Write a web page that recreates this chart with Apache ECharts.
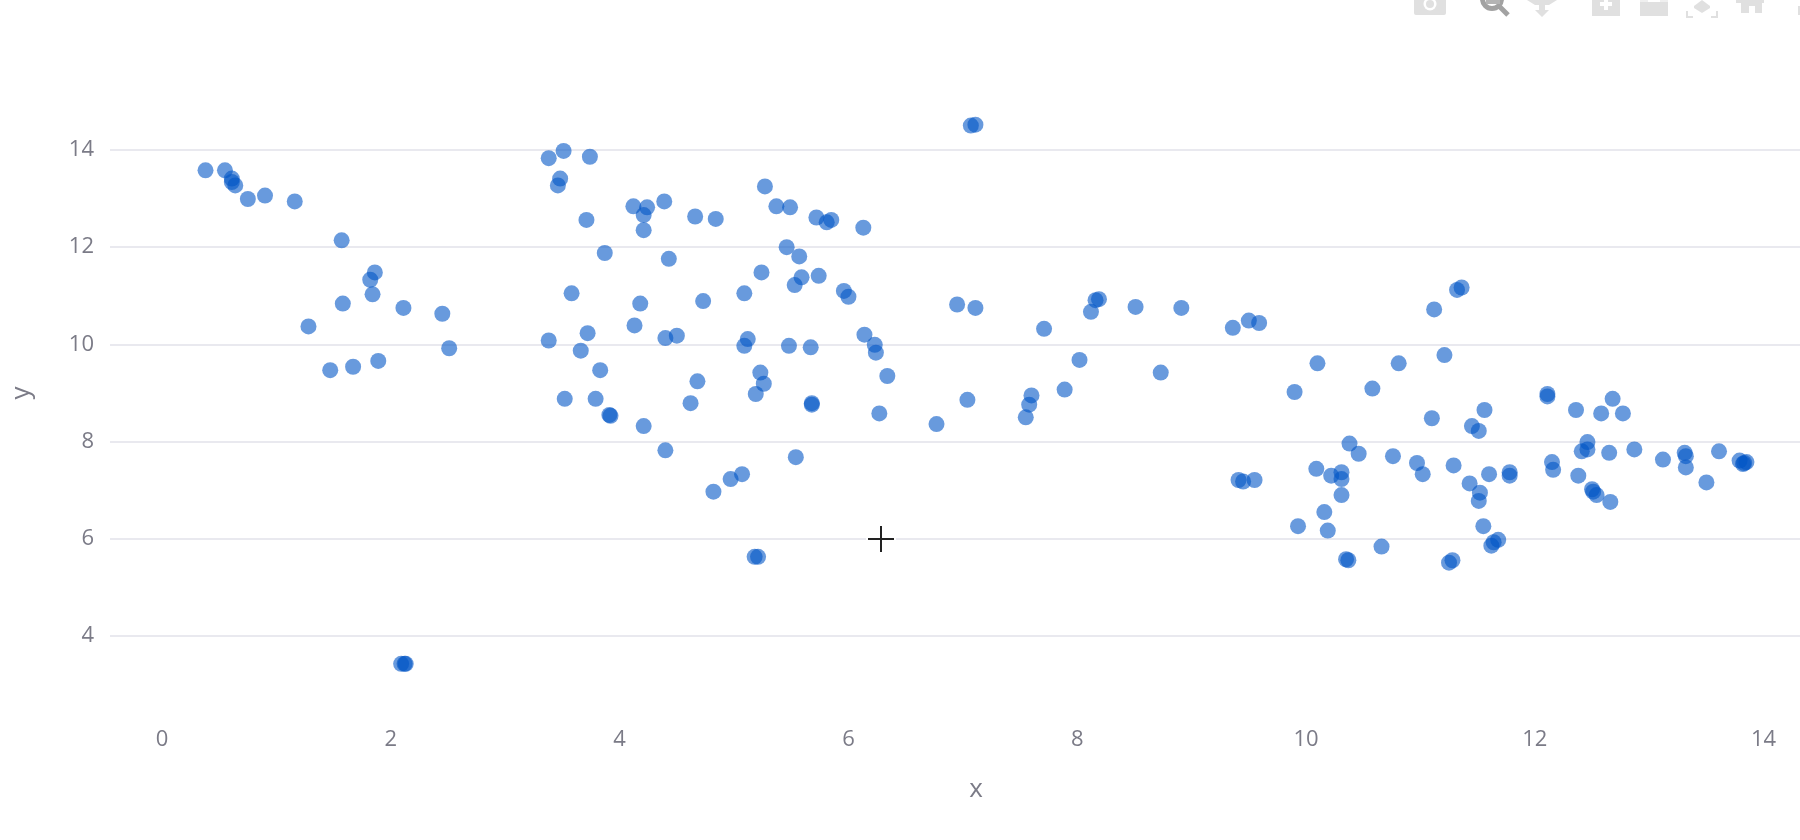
<!DOCTYPE html>
<html><head><meta charset="utf-8">
<style>html,body{margin:0;padding:0;background:#fff;overflow:hidden}#c{width:1800px;height:840px}</style>
<script src="https://cdn.jsdelivr.net/npm/echarts@6/dist/echarts.min.js"></script>
</head><body><div id="c"></div>
<script>
const xValues=[.38,.55,.61,.61,.64,.75,.90,1.16,1.57,1.86,1.82,1.84,1.58,2.11,2.45,1.28,2.51,1.89,1.67,1.47,2.09,2.12,2.13,
3.38,3.51,3.74,3.48,3.46,3.71,3.87,3.58,3.38,3.72,3.66,3.83,3.52,3.79,3.91,3.92,4.12,4.24,4.21,4.21,4.39,4.43,4.18,4.13,4.40,4.50,4.62,4.68,4.21,4.40,4.66,4.84,4.73,4.82,4.97,5.07,5.18,5.21,5.09,5.12,5.09,5.19,5.23,5.26,5.24,5.27,5.37,5.49,5.46,5.57,5.53,5.59,5.74,5.72,5.81,5.85,6.13,5.48,5.67,5.68,5.68,5.54,5.96,6.0,6.14,6.23,6.24,6.34,6.27,
6.77,6.95,7.11,7.04,7.07,7.11,7.55,7.58,7.6,7.71,7.89,8.02,8.12,8.16,8.19,8.51,8.73,8.91,9.36,9.5,9.59,9.41,9.45,9.55,
9.9,9.93,10.1,10.09,10.16,10.19,10.22,10.31,10.31,10.31,10.35,10.37,10.38,10.46,10.58,10.66,10.76,10.81,10.97,11.02,11.1,11.12,11.21,11.25,11.28,11.29,11.32,11.36,11.43,11.45,11.51,11.56,11.52,11.51,11.55,11.6,11.62,11.64,11.68,11.78,11.78,
12.11,12.11,12.15,12.16,12.36,12.38,12.41,12.46,12.46,12.5,12.51,12.54,12.58,12.65,12.66,12.68,12.77,12.87,13.12,13.31,13.32,13.32,13.5,13.61,13.79,13.83,13.85,13.82];
const yValues=[13.58,13.58,13.41,13.34,13.27,12.99,13.06,12.94,12.14,11.48,11.33,11.03,10.84,10.75,10.63,10.37,9.92,9.66,9.54,9.47,3.43,3.43,3.43,
13.83,13.98,13.86,13.41,13.27,12.56,11.88,11.05,10.08,10.23,9.87,9.47,8.88,8.88,8.55,8.53,12.84,12.82,12.66,12.35,12.94,11.76,10.84,10.39,10.13,10.18,8.79,9.24,8.32,7.82,12.63,12.58,10.89,6.97,7.23,7.33,5.63,5.63,11.05,10.11,9.97,8.98,9.42,9.19,11.48,13.25,12.84,12.82,12.0,11.81,11.22,11.38,11.41,12.61,12.51,12.56,12.4,9.97,9.94,8.79,8.76,7.68,11.1,10.98,10.2,9.99,9.83,9.35,8.58,
8.36,10.82,10.75,8.86,14.5,14.52,8.5,8.76,8.95,10.32,9.07,9.68,10.67,10.91,10.93,10.77,9.42,10.75,10.34,10.49,10.44,7.21,7.18,7.21,
9.02,6.26,9.61,7.44,6.55,6.17,7.3,7.37,7.23,6.9,5.58,5.56,7.96,7.75,9.09,5.84,7.7,9.61,7.56,7.33,8.48,10.72,9.78,5.51,5.56,7.51,11.12,11.17,7.14,8.32,8.22,8.65,6.95,6.78,6.26,7.33,5.86,5.93,5.98,7.37,7.3,
8.98,8.93,7.58,7.42,8.65,7.3,7.8,7.99,7.84,7.02,6.97,6.9,8.58,7.77,6.76,8.88,8.58,7.84,7.63,7.77,7.7,7.47,7.16,7.8,7.61,7.56,7.58,7.54];
const xTicks=[0,2,4,6,8,10,12,14];
const yTicks=[4,6,8,10,12,14];

const text='#7b7b87', font='"Open Sans"', icon='#e0e0e0';
const chart=echarts.init(document.getElementById('c'),null,{renderer:'canvas'});
const line=(x1,y1,x2,y2,stroke,lineWidth,z)=>({type:'line',z:z||100,shape:{x1,y1,x2,y2},style:{stroke,lineWidth}});
const rect=(x,y,width,height,fill,z)=>({type:'rect',z:z||100,shape:{x,y,width,height},style:{fill}});
const poly=(points,fill)=>({type:'polygon',z:100,shape:{points},style:{fill}});
chart.setOption({
 animation:false,
 backgroundColor:'#fff',
 grid:{left:110,top:77,right:0,height:632,containLabel:false,outerBoundsMode:'none'},
 xAxis:{type:'value',min:-0.455,max:14.318,name:'x',nameLocation:'middle',nameGap:68,
  nameTextStyle:{color:text,fontFamily:font,fontSize:26,padding:[0,0,0,42]},
  axisLine:{show:false},splitLine:{show:false},
  axisTick:{show:false,customValues:xTicks},
  axisLabel:{customValues:xTicks,color:text,fontFamily:font,fontSize:22,margin:20}},
 yAxis:{type:'value',min:2.5,max:15.5,name:'y',nameLocation:'middle',nameGap:75,
  nameTextStyle:{color:text,fontFamily:font,fontSize:26},
  axisLine:{show:false},
  axisTick:{show:false,customValues:yTicks},
  splitLine:{show:true,lineStyle:{color:'#e9e9ef',width:2}},
  axisLabel:{customValues:yTicks,color:text,fontFamily:font,fontSize:22,margin:16}},
 series:[{type:'scatter',data:xValues.map((x,i)=>[x,yValues[i]]),symbol:'circle',symbolSize:16,
  clip:false,itemStyle:{color:'rgba(0,85,198,0.74)'}}],
 graphic:{elements:[
  // cursor
  rect(866,535,30,8,'#fff',90),rect(877,524,8,30,'#fff',90),
  line(868,539,894,539,'#222',2),line(881,526,881,552,'#222',2),
  // camera
  {type:'rect',z:100,shape:{x:1414,y:-4,width:32,height:19,r:2},style:{fill:icon}},
  {type:'circle',z:101,shape:{cx:1430,cy:4,r:6.5},style:{fill:'#fff'}},
  {type:'circle',z:102,shape:{cx:1430,cy:4,r:4},style:{fill:icon}},
  // magnifier
  {type:'circle',z:100,shape:{cx:1492,cy:-1,r:9.5},style:{fill:'#fff',stroke:'#a2a2a2',lineWidth:5}},
  rect(1486,0,14,4,'#b4b4b4'),
  line(1499,6,1508,15,'#a2a2a2',5),
  // pan
  poly([[1527,0],[1557,0],[1549,5],[1545,5],[1545,10],[1549,10],[1542,17],[1535,10],[1539,10],[1539,5],[1535,5]],icon),
  // zoom in
  rect(1592,0,28,16,icon),rect(1604,0,4,10,'#fff',101),rect(1600,2,12,4,'#fff',101),
  // zoom out
  rect(1640,0,28,16,icon),rect(1640,0,28,2,'#efefef',101),rect(1648,0,12,2,'#fff',101),
  // autoscale
  {type:'polyline',z:100,shape:{points:[[1687,11],[1687,17],[1693,17]]},style:{stroke:icon,fill:null,lineWidth:2}},
  {type:'polyline',z:100,shape:{points:[[1717,11],[1717,17],[1711,17]]},style:{stroke:icon,fill:null,lineWidth:2}},
  poly([[1694,6],[1702,0],[1710,6],[1710,8],[1702,13],[1694,8]],icon),
  // home
  poly([[1736,0],[1748,0],[1752,-2],[1760,0],[1764,0],[1764,3],[1762,3],[1762,13],[1755,13],[1755,6],[1749,6],[1749,13],[1741,13],[1741,3],[1736,3]],icon),
  // partial icon at the edge
  rect(1798,6,2,9,icon)
 ]}
});
</script></body></html>
